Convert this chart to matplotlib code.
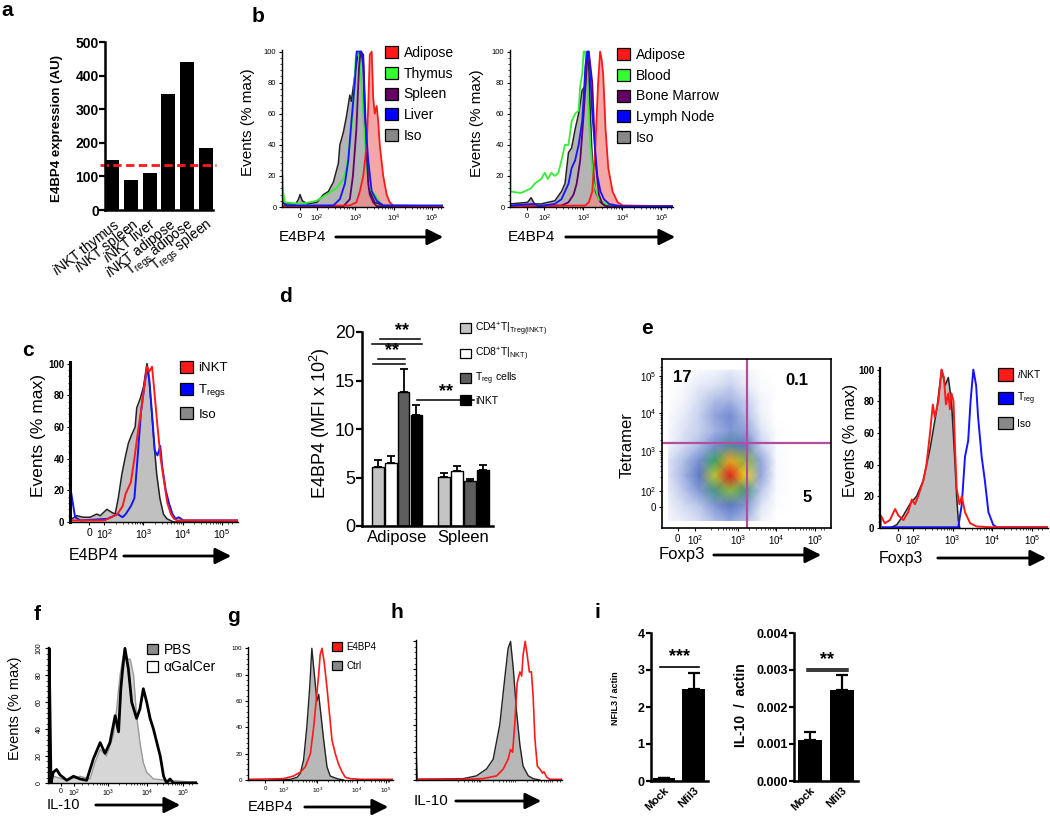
import numpy as np
import matplotlib
matplotlib.use("Agg")
import matplotlib.pyplot as plt
from matplotlib.patches import Patch, FancyArrowPatch
from matplotlib.colors import LinearSegmentedColormap
from matplotlib.ticker import MultipleLocator

plt.rcParams['font.family'] = ['Liberation Sans', 'DejaVu Sans']
plt.rcParams['mathtext.fontset'] = 'custom'
plt.rcParams['mathtext.rm'] = 'Liberation Sans'
plt.rcParams['mathtext.it'] = 'Liberation Sans:italic'
plt.rcParams['mathtext.bf'] = 'Liberation Sans:bold'

# ---------------- data ----------------
# a: E4BP4 expression by population
a_labels = [r"$\it{i}$NKT thymus", r"$\it{i}$NKT spleen", r"$\it{i}$NKT liver",
            r"$\it{i}$NKT adipose", r"T$_{\rm regs}$ adipose", r"T$_{\rm regs}$ spleen"]
a_values = [150, 90, 110, 345, 440, 185]
a_cutoff = 133

# b (left): histograms, x in decades (logicle display units), y in % max
b1_iso_x = [1.10, 1.11, 1.16, 1.45, 1.52, 1.56, 1.62, 1.75, 2.00, 2.17, 2.30, 2.43, 2.56, 2.60, 2.69,
            2.77, 2.86, 2.90, 2.99, 3.07, 3.16, 3.21, 3.25, 3.30, 3.38, 3.51, 3.73, 5.30]
b1_iso_y = [20, 3, 2, 2, 5, 8, 4, 2, 3, 8, 10, 16, 28, 40, 48, 58, 72, 68, 85, 98, 100, 94, 60, 30, 10, 3, 1, 0]
b1_thy_x = [1.10, 1.12, 1.16, 1.60, 1.99, 2.25, 2.51, 2.69, 2.77, 2.86, 2.94, 3.01, 3.04, 3.12, 3.21, 3.30,
            3.38, 3.51, 3.64, 3.73, 5.30]
b1_thy_y = [10, 10, 3, 2, 4, 8, 12, 18, 25, 40, 60, 95, 100, 95, 60, 25, 12, 8, 3, 1, 0]
b1_liv_x = [1.10, 1.20, 2.43, 2.60, 2.73, 2.82, 2.90, 2.99, 3.04, 3.16, 3.21, 3.25, 3.34, 3.43, 3.56, 3.73, 5.30]
b1_liv_y = [3, 1, 1, 5, 15, 30, 55, 80, 100, 100, 90, 60, 30, 10, 4, 1, 1]
b1_spl_x = [1.10, 2.69, 2.86, 2.94, 3.03, 3.10, 3.14, 3.21, 3.25, 3.30, 3.34, 3.38, 3.47, 3.56, 5.30]
b1_spl_y = [0.5, 0.5, 5, 20, 50, 90, 100, 98, 70, 35, 15, 8, 3, 0.5, 0.5]
b1_adi_x = [1.10, 2.86, 3.03, 3.12, 3.21, 3.30, 3.34, 3.38, 3.43, 3.47, 3.51, 3.56, 3.60, 3.64, 3.73, 3.82,
            3.90, 3.99, 5.30]
b1_adi_y = [0.5, 1, 3, 10, 20, 40, 65, 98, 100, 70, 60, 65, 55, 40, 20, 8, 3, 1, 0.5]
b1_names = ["Adipose", "Thymus", "Spleen", "Liver", "Iso"]

# b (right)
b2_blo_x = [1.12, 1.12, 1.13, 1.40, 1.66, 1.75, 1.92, 2.01, 2.09, 2.18, 2.27, 2.36, 2.44, 2.53, 2.62, 2.70,
            2.79, 2.88, 2.92, 2.97, 3.01, 3.05, 3.10, 3.14, 3.18, 3.23, 3.27, 3.40, 3.57, 3.75, 5.30]
b2_blo_y = [0, 100, 10, 9, 12, 15, 18, 22, 18, 22, 20, 22, 30, 40, 40, 55, 60, 62, 78, 85, 100, 100, 80,
            60, 40, 25, 15, 5, 2, 0.5, 0.5]
b2_iso_x = [1.14, 1.57, 1.66, 1.75, 1.92, 2.09, 2.27, 2.44, 2.53, 2.62, 2.70, 2.79, 2.88, 2.97, 3.05, 3.10,
            3.14, 3.18, 3.23, 3.31, 3.44, 3.57, 5.30]
b2_iso_y = [2, 3, 6, 2, 2, 3, 4, 10, 15, 35, 38, 50, 60, 75, 78, 100, 90, 60, 30, 10, 3, 1, 0]
b2_lym_x = [1.14, 1.75, 1.85, 2.27, 2.44, 2.62, 2.70, 2.79, 2.88, 2.97, 3.01, 3.05, 3.10, 3.14, 3.18, 3.23,
            3.31, 3.36, 3.44, 3.53, 3.66, 3.84, 4.01, 5.30]
b2_lym_y = [1, 2, 0.5, 2, 5, 15, 25, 30, 40, 55, 70, 90, 100, 100, 85, 60, 35, 20, 10, 5, 2, 1, 0.5, 0.5]
b2_bm_x = [1.14, 2.44, 2.62, 2.75, 2.83, 2.92, 3.01, 3.10, 3.14, 3.23, 3.31, 3.40, 3.49, 3.57, 5.30]
b2_bm_y = [0.5, 1, 3, 8, 15, 30, 60, 95, 100, 80, 30, 8, 2, 0.5, 0.5]
b2_adi_x = [1.14, 3.05, 3.14, 3.23, 3.31, 3.38, 3.43, 3.47, 3.51, 3.57, 3.64, 3.75, 3.88, 4.01, 5.30]
b2_adi_y = [0.5, 1, 3, 10, 40, 80, 100, 95, 85, 50, 25, 10, 3, 1, 0.5]
b2_names = ["Adipose", "Blood", "Bone Marrow", "Lymph Node", "Iso"]

# c
c_iso_x = [1.15, 1.18, 1.30, 1.47, 1.64, 1.81, 1.90, 2.07, 2.20, 2.28, 2.36, 2.45, 2.53, 2.62, 2.70, 2.79,
           2.83, 2.92, 3.00, 3.09, 3.13, 3.21, 3.27, 3.34, 3.42, 3.51, 3.60, 3.77, 5.40]
c_iso_y = [2, 2, 4, 3, 3, 5, 4, 8, 6, 5, 15, 30, 40, 50, 55, 60, 72, 78, 85, 100, 95, 70, 50, 30, 15, 5, 2, 0, 0]
c_treg_x = [1.15, 1.15, 1.26, 1.40, 2.09, 2.34, 2.47, 2.55, 2.68, 2.77, 2.85, 2.94, 3.02, 3.09, 3.15, 3.23,
            3.29, 3.36, 3.43, 3.48, 3.57, 3.65, 3.74, 3.82, 3.90, 4.02, 5.40]
c_treg_y = [0, 20, 3, 1, 2, 5, 3, 5, 10, 15, 40, 70, 85, 97, 90, 65, 45, 42, 48, 35, 20, 12, 5, 2, 3, 1, 1]
c_inkt_x = [1.15, 2.01, 2.34, 2.47, 2.55, 2.68, 2.77, 2.85, 2.94, 3.02, 3.09, 3.15, 3.22, 3.27, 3.36, 3.44,
            3.53, 3.61, 3.70, 3.78, 3.86, 5.40]
c_inkt_y = [1, 1, 5, 10, 18, 25, 40, 55, 70, 85, 98, 95, 98, 85, 60, 40, 25, 12, 5, 2, 1, 1]
c_names = ["iNKT", r"T$_{\rm regs}$", "Iso"]

# d: E4BP4 MFI
d_groups = ["Adipose", "Spleen"]
d_cells = [r"CD4$^{+}$T|$_{\rm Treg(iNKT)}$", r"CD8$^{+}$T|$_{\rm NKT)}$", r"T$_{\rm reg}$ cells", "iNKT"]
d_adipose = [6.1, 6.45, 13.8, 11.4]
d_adipose_err = [0.7, 0.75, 2.4, 1.05]
d_spleen = [5.1, 5.7, 4.65, 5.8]
d_spleen_err = [0.4, 0.5, 0.15, 0.5]

# e (left): tetramer vs Foxp3 density, log display units
e_x = [1.2, 1.6, 2.0, 2.4, 2.8, 3.2, 3.6, 4.0, 4.4, 4.8, 5.2]
e_y = [1.15, 1.55, 1.95, 2.35, 2.75, 3.15, 3.55, 3.95, 4.35, 4.75, 5.15]
e_density = [
    [0.4, 0.8, 1.2, 2.0, 2.5, 2.0, 0.6, 0, 0, 0, 0],
    [0.6, 1.2, 1.8, 2.8, 3.5, 2.8, 1.0, 0.1, 0, 0, 0],
    [0.8, 1.8, 2.8, 4.5, 6.0, 4.5, 1.8, 0.2, 0, 0, 0],
    [1.0, 2.2, 3.5, 6.5, 9.0, 7.0, 2.5, 0.3, 0, 0, 0],
    [1.0, 2.0, 3.0, 5.0, 7.5, 6.0, 2.5, 0.3, 0, 0, 0],
    [0.5, 1.2, 2.0, 3.0, 4.0, 3.5, 1.5, 0.2, 0, 0, 0],
    [0.3, 1.0, 1.5, 2.2, 2.8, 2.5, 1.0, 0.1, 0, 0, 0],
    [0.2, 0.8, 1.5, 2.5, 3.0, 2.0, 0.6, 0, 0, 0, 0],
    [0, 0.5, 1.2, 2.0, 2.2, 1.5, 0.5, 0, 0, 0, 0],
    [0, 0.3, 0.8, 1.0, 1.5, 0.8, 0.2, 0, 0, 0, 0],
    [0, 0, 0.3, 0.5, 0.8, 0.5, 0, 0, 0, 0, 0],
]
e_gate_x = 3.23
e_gate_y = 3.21
e_quads = ["17", "0.1", "5"]

# e (right)
e2_inkt_x = [1.19, 1.19, 1.29, 1.42, 1.55, 1.63, 1.76, 1.88, 1.97, 2.05, 2.13, 2.26, 2.34, 2.43, 2.50, 2.55,
             2.64, 2.72, 2.78, 2.83, 2.89, 2.93, 2.97, 3.02, 3.06, 3.10, 3.17, 3.23, 3.31, 3.44, 3.60, 3.94, 5.40]
e2_inkt_y = [0, 8, 3, 5, 12, 8, 5, 10, 18, 15, 20, 30, 40, 60, 78, 70, 80, 100, 95, 78, 85, 75, 85, 80, 50,
             25, 15, 20, 10, 3, 1, 0.5, 0.5]
e2_iso_x = [1.42, 1.59, 1.76, 1.92, 2.09, 2.26, 2.43, 2.60, 2.72, 2.81, 2.89, 2.97, 3.06, 3.10, 3.14, 3.18]
e2_iso_y = [0, 2, 8, 15, 20, 30, 50, 75, 100, 90, 95, 80, 40, 20, 5, 0]
e2_treg_x = [1.19, 3.14, 3.23, 3.31, 3.39, 3.45, 3.52, 3.59, 3.64, 3.73, 3.81, 3.90, 4.02, 4.11, 5.40]
e2_treg_y = [0.5, 0.5, 15, 45, 55, 80, 100, 90, 70, 45, 30, 10, 2, 0.5, 0.5]
e2_names = [r"$\it{i}$NKT", r"T$_{\rm reg}$", "Iso"]

# f
f_pbs_x = [1.41, 1.41, 1.45, 1.54, 1.90, 2.25, 2.52, 2.65, 2.79, 2.96, 3.14, 3.23, 3.32, 3.41, 3.50, 3.59,
           3.68, 3.76, 3.85, 3.94, 4.03, 4.21, 4.56, 5.10, 5.37]
f_pbs_y = [0, 100, 2, 5, 2, 5, 3, 15, 25, 20, 35, 55, 80, 95, 92, 92, 80, 50, 30, 15, 8, 3, 2, 1, 1]
f_gal_x = [1.43, 1.43, 1.48, 1.54, 1.63, 1.72, 1.90, 2.08, 2.25, 2.43, 2.61, 2.79, 2.92, 3.05, 3.19, 3.28,
           3.34, 3.39, 3.45, 3.54, 3.63, 3.76, 3.85, 3.94, 4.03, 4.12, 4.21, 4.30, 4.39, 4.48, 4.56, 4.65,
           4.74, 5.10, 5.37]
f_gal_y = [0, 100, 0, 8, 10, 6, 2, 5, 3, 2, 18, 30, 22, 30, 50, 38, 70, 85, 100, 85, 60, 48, 55, 70, 60,
           48, 40, 30, 20, 5, 0, 3, 0, 0, 0]
f_names = ["PBS", "αGalCer"]

# g
g_ctrl_x = [1.69, 2.25, 2.44, 2.53, 2.62, 2.71, 2.79, 2.85, 2.92, 2.99, 3.04, 3.08, 3.18, 3.27, 3.36, 3.55, 3.73]
g_ctrl_y = [0, 0.5, 2, 5, 15, 40, 70, 100, 80, 60, 65, 55, 30, 10, 3, 1, 0]
g_e4_x = [1.10, 2.06, 2.34, 2.53, 2.67, 2.81, 2.90, 2.97, 3.04, 3.08, 3.13, 3.19, 3.27, 3.34, 3.41, 3.50,
          3.59, 3.69, 3.78, 3.92, 4.19, 5.20]
g_e4_y = [0.5, 1, 3, 6, 10, 20, 40, 60, 80, 95, 100, 90, 70, 50, 30, 20, 12, 6, 2, 1, 0.5, 0.5]
g_names = ["E4BP4", "Ctrl"]

# h
h_ctrl_x = [1.11, 1.11, 1.13, 2.46, 2.84, 3.13, 3.32, 3.51, 3.66, 3.75, 3.82, 3.90, 3.99, 4.09, 4.18, 4.33,
            4.47, 4.66]
h_ctrl_y = [0, 17, 0.5, 1, 3, 8, 15, 40, 75, 95, 100, 80, 50, 25, 10, 3, 1, 0]
h_il10_x = [1.11, 2.56, 3.03, 3.42, 3.61, 3.75, 3.82, 3.88, 3.94, 4.01, 4.09, 4.14, 4.18, 4.24, 4.30, 4.36,
            4.42, 4.47, 4.52, 4.59, 4.66, 4.74, 4.78, 4.86, 4.95, 5.30]
h_il10_y = [0.5, 0.5, 1, 3, 8, 15, 22, 20, 40, 70, 78, 75, 90, 100, 90, 78, 78, 60, 30, 10, 8, 5, 6, 2, 0.5, 0.5]

# i
i_groups = ["Mock", "Nfil3"]
i1_values = [0.07, 2.48]
i1_err = [0.02, 0.45]
i2_values = [0.00112, 0.00247]
i2_err = [0.00021, 0.00039]

pct_ticks = [0, 20, 40, 60, 80, 100]
dec_labels = ["0", "$10^2$", "$10^3$", "$10^4$", "$10^5$"]

# ---------------- helpers ----------------
W, H = 1050, 817


def box(l, t, r, b):
    return [l / W, 1 - b / H, (r - l) / W, (b - t) / H]


def fxy(x, y):
    return (x / W, 1 - y / H)


fig = plt.figure(figsize=(10.5, 8.17), dpi=100)
fig.patch.set_facecolor('white')

minor_dec = [d + np.log10(k) for d in (2, 3, 4) for k in range(2, 10)] + [5.0, 5.15, 5.25]


def panel_label(s, x, y):
    fig.text(*fxy(x, y), s, fontsize=15, fontweight='bold', ha='center', va='center')


def arrow_label(s, tx, ty, x0, x1, fs=11):
    fig.text(*fxy(tx, ty), s, fontsize=fs, ha='left', va='center')
    fig.add_artist(FancyArrowPatch(fxy(x0, ty), fxy(x1, ty), transform=fig.transFigure,
                                   arrowstyle='-|>,head_length=0.8,head_width=0.4',
                                   mutation_scale=12, lw=2, color='black'))


def ylab(s, x, y, fs=11, weight='normal'):
    fig.text(*fxy(x, y), s, fontsize=fs, rotation=90, ha='center', va='center', fontweight=weight)


def flow_axes(rect, xlim, ticks, labels, fs=5.5, ylabels=True, yfs=None, bold=False, lw=1.0):
    ax = fig.add_axes(box(*rect))
    ax.set_xlim(*xlim)
    ax.set_ylim(0, 101)
    for s in ('top', 'right'):
        ax.spines[s].set_visible(False)
    ax.spines['left'].set_linewidth(lw)
    ax.spines['bottom'].set_linewidth(1.0)
    ax.set_yticks(pct_ticks)
    ax.set_yticklabels([str(v) for v in pct_ticks] if ylabels else [],
                       fontsize=yfs or fs, fontweight='bold' if bold else 'normal')
    ax.set_xticks(ticks)
    ax.set_xticklabels(labels, fontsize=fs)
    ax.set_xticks([m for m in minor_dec if xlim[0] < m < xlim[1]], minor=True)
    ax.yaxis.set_minor_locator(MultipleLocator(4))
    ax.tick_params(length=2.5, width=0.8, pad=1.5)
    ax.tick_params(which='minor', length=1.5, width=0.5)
    return ax


def add_legend(ax, names, colors, x, y, fs, hl, ls, edge='black'):
    handles = [Patch(facecolor=c, edgecolor=edge, lw=0.9) for c in colors]
    ax.legend(handles, names, loc='upper left', bbox_to_anchor=fxy(x, y),
              bbox_transform=fig.transFigure, frameon=False, borderpad=0, borderaxespad=0,
              handlelength=hl, handleheight=hl, handletextpad=0.4, labelspacing=ls, fontsize=fs)


RED, GREEN, PURPLE, BLUE = '#ff1a1a', '#33ee33', '#660066', '#1414ff'
ISO_FILL = '#b4b4b4'

# ---------------- a ----------------
panel_label('a', 7, 11)
ax = fig.add_axes(box(105, 42, 213, 210))
xa = np.arange(len(a_values))
ax.bar(xa, a_values, width=0.75, color='black')
ax.axhline(a_cutoff, xmin=-0.05, xmax=1.03, color=RED, lw=2, ls=(0, (3, 1.6)), clip_on=False)
ax.set_xlim(-0.39, 5.39)
ax.set_ylim(0, 500)
ax.set_yticks(range(0, 501, 100))
ax.set_xticks(xa)
ax.set_xticklabels(a_labels, rotation=38, ha='right', va='top', rotation_mode='anchor', fontsize=10)
ax.tick_params(axis='x', length=0, pad=4)
ax.tick_params(axis='y', labelsize=10, width=1.6, length=4, pad=0.5)
for t in ax.get_yticklabels():
    t.set_fontweight('bold')
for s in ('top', 'right'):
    ax.spines[s].set_visible(False)
for s in ('left', 'bottom'):
    ax.spines[s].set_linewidth(1.8)
ylab("E4BP4 expression (AU)", 57, 128, fs=9.5, weight='bold')

# ---------------- b ----------------
panel_label('b', 258, 17)
ax = flow_axes((282, 50, 443, 207), (1.09, 5.29), [1.56, 2, 3, 4, 5], dec_labels, fs=5.5)
ax.fill_between(b1_iso_x, b1_iso_y, color=ISO_FILL, lw=0)
ax.fill_between(b1_adi_x, b1_adi_y, color='#f08a8a', alpha=0.75, lw=0)
ax.plot(b1_iso_x, b1_iso_y, color='#222222', lw=1.1)
ax.plot(b1_thy_x, b1_thy_y, color=GREEN, lw=1.3)
ax.plot(b1_spl_x, b1_spl_y, color=PURPLE, lw=1.3)
ax.plot(b1_adi_x, b1_adi_y, color=RED, lw=1.3)
ax.plot(b1_liv_x, b1_liv_y, color=BLUE, lw=1.3)
add_legend(ax, b1_names, [RED, '#33ff33', PURPLE, '#0000ff', '#888888'], 385, 46, 10, 0.95, 0.48)
ylab("Events (% max)", 248, 122, fs=11)
arrow_label("E4BP4", 279, 237, 333, 446, fs=11)

ax = flow_axes((510, 50, 673, 207), (1.12, 5.3), [1.56, 2, 3, 4, 5], dec_labels, fs=5.5)
ax.fill_between(b2_iso_x, b2_iso_y, color=ISO_FILL, lw=0)
ax.fill_between(b2_adi_x, b2_adi_y, color='#f08a8a', alpha=0.75, lw=0)
ax.plot(b2_iso_x, b2_iso_y, color='#222222', lw=1.1)
ax.plot(b2_blo_x, b2_blo_y, color=GREEN, lw=1.3)
ax.plot(b2_bm_x, b2_bm_y, color=PURPLE, lw=1.3)
ax.plot(b2_adi_x, b2_adi_y, color=RED, lw=1.3)
ax.plot(b2_lym_x, b2_lym_y, color=BLUE, lw=1.3)
add_legend(ax, b2_names, [RED, '#33ff33', PURPLE, '#0000ff', '#888888'], 617, 48, 10, 0.95, 0.48)
ylab("Events (% max)", 477, 123, fs=11)
arrow_label("E4BP4", 508, 237, 563, 678, fs=11)

# ---------------- c ----------------
panel_label('c', 28, 350)
ax = flow_axes((70, 362, 238, 522), (1.13, 5.41), [1.62, 2, 3, 4, 5], dec_labels, fs=7.5,
               yfs=7, bold=True, lw=2.2)
ax.fill_between(c_iso_x, c_iso_y, color='#c0c0c0', lw=0)
ax.plot(c_iso_x, c_iso_y, color='#222222', lw=1.1)
ax.plot(c_treg_x, c_treg_y, color=BLUE, lw=1.4)
ax.plot(c_inkt_x, c_inkt_y, color=RED, lw=1.4)
add_legend(ax, c_names, [RED, '#0000ff', '#888888'], 180, 361, 9.5, 1.0, 0.6)
ylab("Events (% max)", 38, 435, fs=12.5)
arrow_label("E4BP4", 69, 556, 121, 234, fs=11.5)

# ---------------- d ----------------
panel_label('d', 286, 296)
ax = fig.add_axes(box(362, 332, 493, 526))
d_colors = ['#c4c4c4', 'white', '#5e5e5e', 'black']
offsets = [0, 5.1]
for gi, (vals, errs) in enumerate([(d_adipose, d_adipose_err), (d_spleen, d_spleen_err)]):
    xs = offsets[gi] + np.arange(len(vals))
    ax.bar(xs, vals, width=0.92, color=d_colors, edgecolor='black', lw=1.0)
    ax.errorbar(xs, vals, yerr=[[0] * len(vals), errs], fmt='none', ecolor='black',
                elinewidth=1.3, capsize=3, capthick=1.3)
ax.set_xlim(-1.2, 8.9)
ax.set_ylim(0, 20)
ax.set_yticks([0, 5, 10, 15, 20])
ax.set_xticks([offsets[0] + 1.5, offsets[1] + 1.5])
ax.set_xticklabels(d_groups, fontsize=12)
ax.tick_params(axis='x', length=0, pad=3)
ax.tick_params(axis='y', labelsize=13, width=1.6, length=4, pad=1)
for s in ('top', 'right'):
    ax.spines[s].set_visible(False)
for s in ('left', 'bottom'):
    ax.spines[s].set_linewidth(1.8)
# significance bars
for x0, x1, yv in [(0.2, 3.3, 19.3), (-0.45, 3.4, 18.8), (0.05, 2.1, 17.25), (-0.35, 2.1, 16.7),
                   (3.05, 7.4, 13.0)]:
    ax.plot([x0, x1], [yv, yv], color='black', lw=1.1, clip_on=False)
for xc, yv in [(1.85, 19.25), (1.1, 17.2), (5.3, 12.95)]:
    ax.text(xc, yv, "**", ha='center', va='bottom', fontsize=13, fontweight='bold')
add_legend(ax, d_cells, d_colors, 460, 320, 7.5, 1.05, 0.75)
ylab(r"E4BP4 (MFI x 10$^{2}$)", 320, 423, fs=13)

# ---------------- e ----------------
panel_label('e', 647, 328)
ax = fig.add_axes(box(662, 359, 831, 528))
cmap = LinearSegmentedColormap.from_list('flow', [(0, 'white'), (0.06, '#f1f3fb'), (0.2, '#b9c6ea'),
                                                  (0.38, '#5d78c8'), (0.58, '#39a85a'),
                                                  (0.78, '#eed21e'), (1.0, '#e02020')])
X, Y = np.meshgrid(e_x, e_y)
ax.pcolormesh(X, Y, np.array(e_density), shading='gouraud', cmap=cmap, vmin=0, vmax=9)
ax.axvline(e_gate_x, color='#b0509a', lw=1.6)
ax.axhline(e_gate_y, color='#b0509a', lw=1.6)
ax.set_xlim(1.03, 5.42)
ax.set_ylim(0.95, 5.45)
ax.set_xticks([1.44, 1.88, 3, 4, 5])
ax.set_xticklabels(dec_labels, fontsize=7)
ax.set_yticks([1.5, 1.93, 3, 4, 5])
ax.set_yticklabels(dec_labels, fontsize=7)
ax.set_xticks([m for m in minor_dec if m < 5.42], minor=True)
ax.set_yticks([m for m in minor_dec if m < 5.45], minor=True)
ax.tick_params(length=2.5, width=0.8, pad=1.5)
ax.tick_params(which='minor', length=1.5, width=0.5)
for s in ax.spines.values():
    s.set_linewidth(1.2)
for txt, (px, py) in zip(e_quads, [(0.12, 0.89), (0.80, 0.87), (0.86, 0.18)]):
    ax.text(px, py, txt, transform=ax.transAxes, ha='center', va='center', fontsize=12, fontweight='bold')
ylab("Tetramer", 627, 445, fs=12)
arrow_label("Foxp3", 659, 555, 711, 824, fs=12)

ax = flow_axes((880, 368, 1048, 528), (1.17, 5.40), [1.62, 2, 3, 4, 5], dec_labels, fs=7,
               yfs=7, bold=True, lw=1.6)
ax.fill_between(e2_iso_x, e2_iso_y, color='#c0c0c0', lw=0)
ax.plot(e2_iso_x, e2_iso_y, color='#222222', lw=1.1)
ax.plot(e2_treg_x, e2_treg_y, color=BLUE, lw=1.4)
ax.plot(e2_inkt_x, e2_inkt_y, color=RED, lw=1.4)
add_legend(ax, e2_names, [RED, '#0000ff', '#888888'], 998, 368, 7.5, 1.45, 0.95)
ylab("Events (% max)", 850, 440, fs=11.5)
arrow_label("Foxp3", 879, 558, 935, 1049, fs=11.5)

# ---------------- f ----------------
panel_label('f', 37, 615)
ax = flow_axes((48, 647, 197, 783), (1.40, 5.37), [1.75, 2.1, 3, 4.04, 5], dec_labels, fs=5, lw=1.0)
ax.tick_params(axis='x', pad=0.8)
for t in ax.get_yticklabels():
    t.set_rotation(90)
    t.set_va('center')
ax.fill_between(f_pbs_x, f_pbs_y, color='#d6d6d6', lw=0)
ax.plot(f_pbs_x, f_pbs_y, color='#9a9a9a', lw=1.0)
ax.plot(f_gal_x, f_gal_y, color='black', lw=2.0)
add_legend(ax, f_names, ['#8c8c8c', 'white'], 147, 643, 10, 0.8, 0.22)
ylab("Events (% max)", 15, 708, fs=10.5)
arrow_label("IL-10", 47, 805, 93, 183, fs=10.5)

# ---------------- g ----------------
panel_label('g', 233, 616)
ax = flow_axes((248, 647, 393, 780), (1.08, 5.10), [1.56, 2.06, 3, 4.1, 4.9], dec_labels, fs=4.5)
ax.fill_between(g_ctrl_x, g_ctrl_y, color='#b8b8b8', lw=0)
ax.plot(g_ctrl_x, g_ctrl_y, color='#222222', lw=1.0)
ax.plot(g_e4_x, g_e4_y, color=RED, lw=1.2)
add_legend(ax, g_names, [RED, '#888888'], 332, 642, 7, 1.05, 0.95)
arrow_label("E4BP4", 248, 807, 302, 391, fs=10.5)

# ---------------- h ----------------
panel_label('h', 397, 612)
ax = flow_axes((416, 640, 562, 780), (1.10, 5.30), [], [], fs=4.5, ylabels=False)
ax.fill_between(h_ctrl_x, h_ctrl_y, color='#b8b8b8', lw=0)
ax.plot(h_ctrl_x, h_ctrl_y, color='#222222', lw=1.0)
ax.plot(h_il10_x, h_il10_y, color=RED, lw=1.2)
arrow_label("IL-10", 414, 801, 453, 544, fs=11)

# ---------------- i ----------------
panel_label('i', 597, 613)


def bar_axes(rect, vals, errs, xlim, ylim, yticks, fmt, width):
    ax = fig.add_axes(box(*rect))
    xs = np.arange(len(vals))
    ax.bar(xs, vals, width=width, color='black')
    ax.errorbar(xs, vals, yerr=[[0] * len(vals), errs], fmt='none', ecolor='black',
                elinewidth=1.6, capsize=4, capthick=1.6)
    ax.set_xlim(*xlim)
    ax.set_ylim(*ylim)
    ax.set_yticks(yticks)
    ax.set_yticklabels([fmt.format(v) for v in yticks], fontsize=9, fontweight='bold')
    ax.set_xticks(xs)
    ax.set_xticklabels(i_groups, rotation=45, ha='right', va='top', rotation_mode='anchor',
                       fontsize=8, fontweight='bold')
    ax.tick_params(axis='x', length=0, pad=3)
    ax.tick_params(axis='y', width=1.6, length=3.5, pad=1)
    for s in ('top', 'right'):
        ax.spines[s].set_visible(False)
    for s in ('left', 'bottom'):
        ax.spines[s].set_linewidth(1.8)
    return ax


ax = bar_axes((651, 633, 708, 781), i1_values, i1_err, (-0.44, 1.49), (0, 4), [0, 1, 2, 3, 4], "{:.0f}", 0.75)
ax.plot([-0.15, 1.2], [3.07, 3.07], color='black', lw=1.2)
ax.text(0.52, 3.12, "***", ha='center', va='bottom', fontsize=13, fontweight='bold')
ylab("NFIL3 / actin", 615, 698, fs=6.5, weight='bold')

ax = bar_axes((794, 633, 858, 781), i2_values, i2_err, (-0.51, 1.52), (0, 0.004),
              [0, 0.001, 0.002, 0.003, 0.004], "{:.3f}", 0.76)
ax.plot([-0.1, 1.2], [0.00302, 0.00302], color='black', lw=1.1)
ax.plot([-0.1, 1.2], [0.00296, 0.00296], color='black', lw=1.1)
ax.text(0.55, 0.00305, "**", ha='center', va='bottom', fontsize=13, fontweight='bold')
ylab("IL-10  /  actin", 741, 705, fs=10, weight='bold')

fig.savefig("out.png", dpi=100)
